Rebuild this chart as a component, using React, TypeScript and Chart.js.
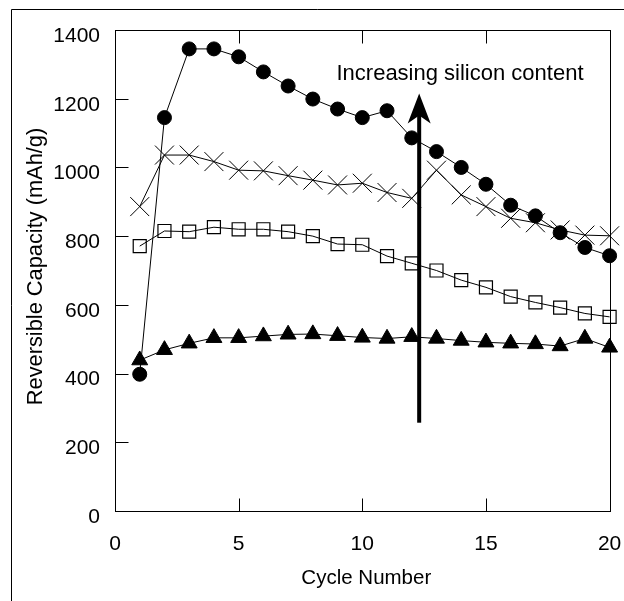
import React, { useEffect, useRef } from 'react';
import { Chart, registerables } from 'chart.js';

Chart.register(...registerables);

const cycles = [1, 2, 3, 4, 5, 6, 7, 8, 9, 10, 11, 12, 13, 14, 15, 16, 17, 18, 19, 20];
const circleSeries = [398, 1145, 1345, 1345, 1322, 1278, 1237, 1199, 1170, 1145, 1165, 1086, 1046, 1000, 951, 890, 859, 810, 767, 743];
const crossSeries = [886, 1036, 1036, 1017, 992, 990, 976, 963, 949, 954, 927, 910, 992, 920, 886, 852, 839, 818, 803, 801];
const squareSeries = [771, 815, 813, 826, 820, 820, 813, 800, 777, 775, 742, 721, 700, 672, 651, 624, 607, 592, 575, 565];
const triangleSeries = [439, 469, 488, 504, 504, 509, 514, 515, 510, 505, 502, 507, 502, 496, 491, 488, 486, 480, 502, 476];

const xTickValues = [0, 5, 10, 15, 20];
const yTickValues = [0, 200, 400, 600, 800, 1000, 1200, 1400];

const arrowX = 12.3;
const arrowFrom = 257;
const arrowTo = 1215;
const annotationText = 'Increasing silicon content';
const annotationX = 13.95;
const annotationY = 1254;

const xTitle = 'Cycle Number';
const yTitle = 'Reversible Capacity (mAh/g)';

const FONT = '"Liberation Sans", Arial, Helvetica, sans-serif';

const toPoints = (ys: number[]) => ys.map((y, i) => ({ x: cycles[i], y }));

const decorPlugin = {
  id: 'decor',
  beforeDraw(chart: any) {
    const ctx = chart.ctx;
    ctx.save();
    ctx.fillStyle = '#fff';
    ctx.fillRect(0, 0, chart.width, chart.height);
    ctx.strokeStyle = '#000';
    ctx.lineWidth = 1;
    ctx.beginPath();
    ctx.moveTo(11.5, chart.height);
    ctx.lineTo(11.5, 9.5);
    ctx.lineTo(chart.width, 9.5);
    ctx.stroke();
    ctx.restore();
  },
  beforeDatasetsDraw(chart: any) {
    const ctx = chart.ctx;
    const xs = chart.scales.x;
    const ys = chart.scales.y;
    const { left, right, top, bottom } = chart.chartArea;
    const L = Math.round(left) + 0.5;
    const R = Math.round(right) + 0.5;
    const T = Math.round(top) + 0.5;
    const B = Math.round(bottom) + 0.5;
    ctx.save();
    ctx.strokeStyle = '#000';
    ctx.lineWidth = 1;
    ctx.strokeRect(L, T, R - L, B - T);
    ctx.beginPath();
    const tl = 13;
    for (const v of yTickValues) {
      const py = Math.round(ys.getPixelForValue(v)) + 0.5;
      ctx.moveTo(L, py);
      ctx.lineTo(L + tl, py);
    }
    for (const v of xTickValues) {
      const px = Math.round(xs.getPixelForValue(v)) + 0.5;
      ctx.moveTo(px, B);
      ctx.lineTo(px, B - tl);
      ctx.moveTo(px, T);
      ctx.lineTo(px, T + tl);
    }
    ctx.stroke();
    ctx.restore();
  },
  afterDatasetsDraw(chart: any) {
    const ctx = chart.ctx;
    const xs = chart.scales.x;
    const ys = chart.scales.y;
    const { left, right, top, bottom } = chart.chartArea;
    ctx.save();
    const ax = xs.getPixelForValue(arrowX);
    const y1 = ys.getPixelForValue(arrowFrom);
    const y2 = ys.getPixelForValue(arrowTo);
    ctx.fillStyle = '#000';
    ctx.fillRect(ax - 2, y2 + 20, 4, y1 - (y2 + 20));
    ctx.beginPath();
    ctx.moveTo(ax, y2);
    ctx.lineTo(ax + 11.5, y2 + 30);
    ctx.lineTo(ax, y2 + 22);
    ctx.lineTo(ax - 11.5, y2 + 30);
    ctx.closePath();
    ctx.fill();
    ctx.font = `22px ${FONT}`;
    ctx.textAlign = 'center';
    ctx.textBaseline = 'alphabetic';
    ctx.fillText(annotationText, xs.getPixelForValue(annotationX), ys.getPixelForValue(annotationY));
    ctx.font = `20.5px ${FONT}`;
    ctx.textBaseline = 'middle';
    ctx.fillText(xTitle, (left + right) / 2 + 4, 578);
    ctx.translate(36, (top + bottom) / 2 - 4);
    ctx.rotate(-Math.PI / 2);
    ctx.font = `21.8px ${FONT}`;
    ctx.fillText(yTitle, 0, 0);
    ctx.restore();
  },
};

export default function App() {
  const ref = useRef<HTMLCanvasElement | null>(null);
  useEffect(() => {
    document.body.style.margin = '0';
    if (!ref.current) return;
    Chart.defaults.font.family = FONT;
    const chart = new Chart(ref.current, {
      type: 'line',
      data: {
        datasets: [
          { label: 'circles', data: toPoints(circleSeries), borderColor: '#000', borderWidth: 1, backgroundColor: '#000', pointStyle: 'circle', pointRadius: 7, pointBorderWidth: 1, pointBackgroundColor: '#000', pointBorderColor: '#000', clip: false },
          { label: 'crosses', data: toPoints(crossSeries), borderColor: '#000', borderWidth: 1, pointStyle: 'crossRot', pointRadius: 13.4, pointBorderWidth: 1, pointBorderColor: '#000', clip: false },
          { label: 'squares', data: toPoints(squareSeries), borderColor: '#000', borderWidth: 1, pointStyle: 'rect', pointRadius: 9.2, pointBorderWidth: 1.2, pointBackgroundColor: 'rgba(0,0,0,0)', pointBorderColor: '#000', clip: false },
          { label: 'triangles', data: toPoints(triangleSeries), borderColor: '#000', borderWidth: 1, pointStyle: 'triangle', pointRadius: 9.2, pointBorderWidth: 1, pointBackgroundColor: '#000', pointBorderColor: '#000', clip: false },
        ],
      },
      options: {
        animation: false,
        responsive: false,
        events: [],
        layout: { padding: { top: 30, right: 11.6, left: 0, bottom: 0 } },
        plugins: { legend: { display: false }, tooltip: { enabled: false } },
        elements: { line: { tension: 0 } },
        scales: {
          x: {
            type: 'linear', min: 0, max: 20,
            grid: { display: false, drawTicks: false },
            border: { display: false },
            afterBuildTicks: (scale: any) => { scale.ticks = xTickValues.map((v) => ({ value: v })); },
            ticks: { color: '#000', padding: 21, font: { size: 21, family: FONT }, callback: (v: any) => String(v) },
            afterFit: (scale: any) => { scale.height = 90; scale.paddingLeft = 0; scale.paddingRight = 0; },
          },
          y: {
            type: 'linear', min: 0, max: 1400,
            grid: { display: false, drawTicks: false },
            border: { display: false },
            afterBuildTicks: (scale: any) => { scale.ticks = yTickValues.map((v) => ({ value: v })); },
            ticks: { color: '#000', padding: 15, labelOffset: 6, font: { size: 21, family: FONT }, callback: (v: any) => String(v) },
            afterFit: (scale: any) => { scale.width = 115; scale.paddingTop = 0; scale.paddingBottom = 0; },
          },
        },
      },
      plugins: [decorPlugin],
    });
    return () => chart.destroy();
  }, []);
  return (
    <div style={{ position: 'absolute', left: 0, top: 0, width: 624, height: 601 }}>
      <canvas ref={ref} width={624} height={601} style={{ display: 'block', width: 624, height: 601 }} />
    </div>
  );
}
